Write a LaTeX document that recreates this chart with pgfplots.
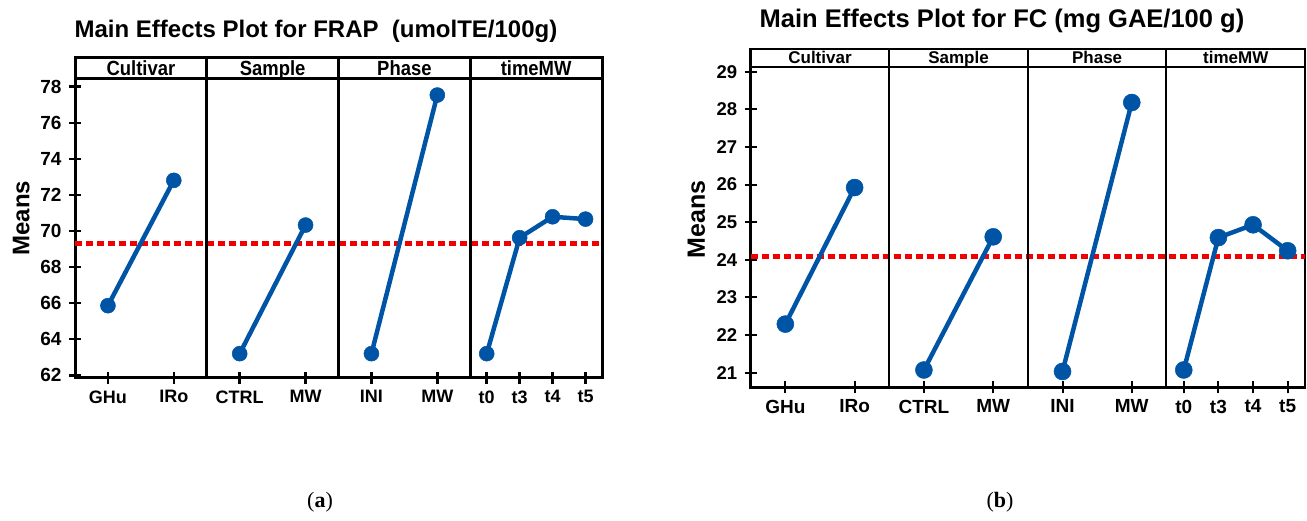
\documentclass[border=0pt]{standalone}
\usepackage{fontspec}
\setmainfont{Liberation Sans}
\newfontfamily\serif{Liberation Serif}
\usepackage{pgfplots}
\pgfplotsset{compat=1.18}
\definecolor{mblue}{RGB}{0,84,166}
\definecolor{mred}{RGB}{240,0,0}
\newcommand{\lhead}[1]{\scalebox{0.9}[1]{#1}}

\begin{document}
\begin{tikzpicture}[x=1pt,y=1pt]
\useasboundingbox (0,0) rectangle (1307,521);
% ---------------- left chart (a)
\begin{axis}[
 at={(75pt,143pt)}, anchor=south west, scale only axis, width=527pt, height=299pt,
 xmin=0,xmax=16, ymin=61.85, ymax=78.43, clip=false,
 xtick={1,3,5,7,9,11,12.5,13.5,14.5,15.5},
 xticklabels={GHu,IRo,CTRL,MW,INI,MW,t0,t3,t4,t5},
 ytick={62,64,...,78},
 tick pos=left, tick align=center, major tick length=12pt,
 tick style={black,line width=2.5pt},
 axis line style={line width=3pt},
 /pgf/number format/assume math mode=true,
 yticklabel style={font=\fontsize{19}{21}\selectfont\bfseries, xshift=-4pt},
 xticklabel style={font=\fontsize{18}{20}\selectfont\bfseries, yshift=-3pt},
 ylabel={Means},
 ylabel style={font=\fontsize{24}{26}\selectfont\bfseries, at={(axis description cs:-0.102,0.535)}, anchor=center},
]
\addplot[mred, line width=5pt, dash pattern=on 7pt off 4pt] coordinates {(0,69.33) (16,69.33)};
\addplot[mblue, line width=4.5pt, mark=*, mark size=7.5pt, mark options={solid,line width=0.5pt}] coordinates {(1,65.86) (3,72.81)};
\addplot[mblue, line width=4.5pt, mark=*, mark size=7.5pt, mark options={solid,line width=0.5pt}] coordinates {(5,63.2) (7,70.33)};
\addplot[mblue, line width=4.5pt, mark=*, mark size=7.5pt, mark options={solid,line width=0.5pt}] coordinates {(9,63.2) (11,77.54)};
\addplot[mblue, line width=4.5pt, mark=*, mark size=7.5pt, mark options={solid,line width=0.5pt}] coordinates {(12.5,63.2) (13.5,69.63) (14.5,70.79) (15.5,70.66)};
\draw[line width=3pt] (rel axis cs:0,1) rectangle ([yshift=21pt]rel axis cs:1,1);
\draw[line width=3pt] (rel axis cs:0.25,0) -- ([yshift=21pt]rel axis cs:0.25,1);
\draw[line width=3pt] (rel axis cs:0.5,0) -- ([yshift=21pt]rel axis cs:0.5,1);
\draw[line width=3pt] (rel axis cs:0.75,0) -- ([yshift=21pt]rel axis cs:0.75,1);
\node[font=\fontsize{20.5}{22}\selectfont\bfseries, anchor=base, inner sep=0pt] at ([yshift=3.5pt]rel axis cs:0.125,1) {\lhead{Cultivar}};
\node[font=\fontsize{20.5}{22}\selectfont\bfseries, anchor=base, inner sep=0pt] at ([yshift=3.5pt]rel axis cs:0.375,1) {\lhead{Sample}};
\node[font=\fontsize{20.5}{22}\selectfont\bfseries, anchor=base, inner sep=0pt] at ([yshift=3.5pt]rel axis cs:0.625,1) {\lhead{Phase}};
\node[font=\fontsize{20.5}{22}\selectfont\bfseries, anchor=base, inner sep=0pt] at ([yshift=3.5pt]rel axis cs:0.875,1) {\lhead{timeMW}};
\end{axis}
% ---------------- right chart (b)
\begin{axis}[
 at={(750.7pt,133.7pt)}, anchor=south west, scale only axis, width=554.3pt, height=320.3pt,
 xmin=0,xmax=16, ymin=20.61, ymax=29.125, clip=false,
 xtick={1,3,5,7,9,11,12.5,13.5,14.5,15.5},
 xticklabels={GHu,IRo,CTRL,MW,INI,MW,t0,t3,t4,t5},
 ytick={21,22,...,29},
 tick pos=left, tick align=center, major tick length=12pt,
 tick style={black,line width=2pt},
 axis line style={line width=2.5pt},
 /pgf/number format/assume math mode=true,
 yticklabel style={font=\fontsize{18.5}{20}\selectfont\bfseries, xshift=-4pt},
 xticklabel style={font=\fontsize{19}{21}\selectfont\bfseries, yshift=-3pt},
 ylabel={Means},
 ylabel style={font=\fontsize{25}{27}\selectfont\bfseries, at={(axis description cs:-0.098,0.525)}, anchor=center},
]
\addplot[mred, line width=5pt, dash pattern=on 7.5pt off 3.5pt] coordinates {(0,24.10) (16,24.10)};
\addplot[mblue, line width=4.5pt, mark=*, mark size=8.5pt, mark options={solid,line width=0.5pt}] coordinates {(1,22.29) (3,25.92)};
\addplot[mblue, line width=4.5pt, mark=*, mark size=8.5pt, mark options={solid,line width=0.5pt}] coordinates {(5,21.07) (7,24.61)};
\addplot[mblue, line width=4.5pt, mark=*, mark size=8.5pt, mark options={solid,line width=0.5pt}] coordinates {(9,21.03) (11,28.18)};
\addplot[mblue, line width=4.5pt, mark=*, mark size=8.5pt, mark options={solid,line width=0.5pt}] coordinates {(12.5,21.07) (13.5,24.59) (14.5,24.93) (15.5,24.24)};
\draw[line width=2.5pt] (rel axis cs:0,1) rectangle ([yshift=18pt]rel axis cs:1,1);
\draw[line width=2pt] (rel axis cs:0.25,0) -- ([yshift=18pt]rel axis cs:0.25,1);
\draw[line width=2pt] (rel axis cs:0.5,0) -- ([yshift=18pt]rel axis cs:0.5,1);
\draw[line width=2pt] (rel axis cs:0.75,0) -- ([yshift=18pt]rel axis cs:0.75,1);
\node[font=\fontsize{17}{19}\selectfont\bfseries, anchor=base, inner sep=0pt] at ([yshift=3.5pt]rel axis cs:0.125,1) {Cultivar};
\node[font=\fontsize{17}{19}\selectfont\bfseries, anchor=base, inner sep=0pt] at ([yshift=3.5pt]rel axis cs:0.375,1) {Sample};
\node[font=\fontsize{17}{19}\selectfont\bfseries, anchor=base, inner sep=0pt] at ([yshift=3.5pt]rel axis cs:0.625,1) {Phase};
\node[font=\fontsize{17}{19}\selectfont\bfseries, anchor=base, inner sep=0pt] at ([yshift=3.5pt]rel axis cs:0.875,1) {timeMW};
\end{axis}
% titles and captions
\node[font=\fontsize{24}{27}\selectfont\bfseries] at (316,490) {Main Effects Plot for FRAP\ \ (umolTE/100g)};
\node[font=\fontsize{25.5}{28}\selectfont\bfseries] at (1002,500) {Main Effects Plot for FC (mg GAE/100 g)};
\node[font=\serif\fontsize{22}{24}\selectfont] at (320,19) {(\textbf{a})};
\node[font=\serif\fontsize{22}{24}\selectfont] at (1000,19) {(\textbf{b})};
\end{tikzpicture}
\end{document}
